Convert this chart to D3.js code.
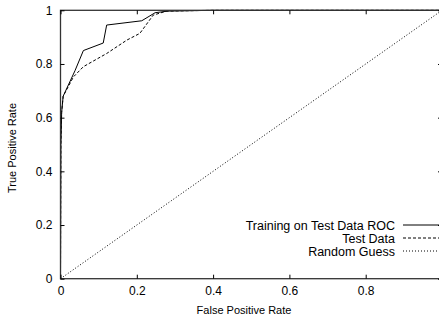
<!DOCTYPE html>
<html>
<head>
<meta charset="utf-8">
<script src="https://cdn.jsdelivr.net/npm/d3@7"></script>
<style>
  body { margin: 0; background: #fff; }
  text { font-family: "Liberation Sans", Arial, sans-serif; font-size: 11px; fill: #000; }
</style>
</head>
<body>
<script>
// ROC curves (false positive rate, true positive rate)
var trainFpr = [0, 0.001, 0.003, 0.007, 0.038, 0.06, 0.112, 0.121, 0.213, 0.248, 0.282, 0.4, 1];
var trainTpr = [0, 0.50, 0.62, 0.68, 0.775, 0.85, 0.878, 0.945, 0.961, 0.991, 0.997, 1, 1];

var testFpr = [0, 0.001, 0.003, 0.007, 0.034, 0.06, 0.121, 0.174, 0.208, 0.243, 0.278, 0.4, 1];
var testTpr = [0, 0.50, 0.62, 0.68, 0.752, 0.79, 0.839, 0.889, 0.914, 0.982, 0.997, 1, 1];

var guessFpr = [0, 1];
var guessTpr = [0, 1];

var xTicks = [0, 0.2, 0.4, 0.6, 0.8];
var yTicks = [0, 0.2, 0.4, 0.6, 0.8, 1];

var seriesNames = ["Training on Test Data ROC", "Test Data", "Random Guess"];

window.onload = drawChart();

function drawChart(){
    var width = 439,
        height = 321;

    var svg = d3.select("body")
        .append("svg")
        .attr("width", width)
        .attr("height", height);

    // plot frame runs off the right edge of the picture
    var x = d3.scaleLinear().domain([0, 1]).range([60.5, 442]);
    var y = d3.scaleLinear().domain([0, 1]).range([278.7, 10.3]);

    var lineGen = d3.line()
        .x(function(d){ return x(d[0]); })
        .y(function(d){ return y(d[1]); });

    function pairs(a, b){ return a.map(function(v, i){ return [v, b[i]]; }); }

    var series = [
        {name: seriesNames[0], pts: pairs(trainFpr, trainTpr), dash: null},
        {name: seriesNames[1], pts: pairs(testFpr, testTpr), dash: "3,2"},
        {name: seriesNames[2], pts: pairs(guessFpr, guessTpr), dash: "1,2"}
    ];

    // curves
    svg.selectAll(".curve")
        .data(series)
        .enter()
        .append("path")
        .attr("class", "curve")
        .attr("d", function(d){ return lineGen(d.pts); })
        .attr("fill", "none")
        .attr("stroke", "#000")
        .attr("stroke-width", 1)
        .attr("stroke-dasharray", function(d){ return d.dash; });

    // border
    svg.append("rect")
        .attr("x", x(0))
        .attr("y", y(1))
        .attr("width", x(1) - x(0))
        .attr("height", y(0) - y(1))
        .attr("fill", "none")
        .attr("stroke", "#333")
        .attr("stroke-width", 1.3);

    // axes with inward ticks, mirrored on the other side
    var xAxis = d3.axisBottom(x).tickValues(xTicks).tickSizeInner(-4).tickSizeOuter(0)
        .tickPadding(8).tickFormat(d3.format("~g"));
    var yAxis = d3.axisLeft(y).tickValues(yTicks).tickSizeInner(-4).tickSizeOuter(0)
        .tickPadding(8).tickFormat(d3.format("~g"));

    var gx = svg.append("g").attr("transform", "translate(0," + y(0) + ")").call(xAxis);
    var gy = svg.append("g").attr("transform", "translate(" + x(0) + ",0)").call(yAxis);
    var gxTop = svg.append("g").attr("transform", "translate(0," + y(1) + ")")
        .call(d3.axisTop(x).tickValues(xTicks).tickSizeInner(-4).tickSizeOuter(0).tickFormat(""));
    var gyRight = svg.append("g").attr("transform", "translate(" + x(1) + ",0)")
        .call(d3.axisRight(y).tickValues(yTicks).tickSizeInner(-4).tickSizeOuter(0).tickFormat(""));

    [gx, gy, gxTop, gyRight].forEach(function(g){
        g.select(".domain").remove();
        g.selectAll("line").attr("stroke", "#000");
        g.selectAll("text").style("font-size", "12px")
            .style("font-family", "'Liberation Sans', Arial, sans-serif");
    });

    // axis titles
    svg.append("text")
        .attr("x", 244)
        .attr("y", 314)
        .attr("text-anchor", "middle")
        .text("False Positive Rate");

    svg.append("text")
        .attr("transform", "translate(16,148) rotate(-90)")
        .attr("text-anchor", "middle")
        .text("True Positive Rate");

    // legend
    var legend = svg.selectAll(".legend")
        .data(series)
        .enter()
        .append("g")
        .attr("class", "legend")
        .attr("transform", function(d, i){ return "translate(0," + (225 + i * 13) + ")"; });

    legend.append("text")
        .attr("x", 395)
        .attr("y", 4.5)
        .attr("text-anchor", "end")
        .style("font-size", "12.5px")
        .text(function(d){ return d.name; });

    legend.append("line")
        .attr("x1", 403)
        .attr("x2", 442)
        .attr("y1", 0)
        .attr("y2", 0)
        .attr("stroke", "#000")
        .attr("stroke-width", 1)
        .attr("stroke-dasharray", function(d){ return d.dash; });
};
</script>
</body>
</html>
